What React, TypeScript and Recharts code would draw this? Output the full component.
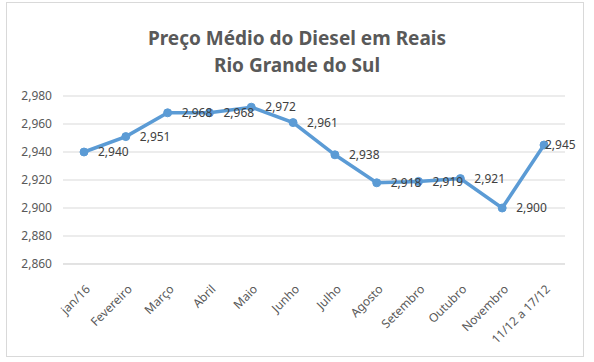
import React from 'react';
import { LineChart, Line, XAxis, YAxis, CartesianGrid, LabelList } from 'recharts';

const months = ['jan/16', 'Fevereiro', 'Março', 'Abril', 'Maio', 'Junho', 'Julho', 'Agosto', 'Setembro', 'Outubro', 'Novembro', '11/12 a 17/12'];
const prices = [2.94, 2.951, 2.968, 2.968, 2.972, 2.961, 2.938, 2.918, 2.919, 2.921, 2.9, 2.945];
const yTicks = [2.86, 2.88, 2.9, 2.92, 2.94, 2.96, 2.98];

const FONT = '"Noto Sans", "Open Sans", sans-serif';
const TEXT = '#595959';

const fmt = (v: number) => v.toFixed(3).replace('.', ',');

const data = months.map((m, i) => ({ month: m, price: prices[i] }));

const MonthTick = ({ x, y, payload }: any) => (
    <text
        x={x + 4}
        y={y + 15}
        transform={`rotate(-45, ${x + 4}, ${y + 15})`}
        textAnchor="end"
        fontSize={12}
        fill={TEXT}
        fontFamily={FONT}
        dy="0.35em"
    >
        {payload.value}
    </text>
);

// labels sit to the right of each point, kept inside the chart frame
const PointLabel = ({ x, y, value }: any) => (
    <text x={Math.min(x + 14, 545)} y={y} dy="0.35em" fontSize={12} fill="#404040" fontFamily={FONT}>
        {fmt(value)}
    </text>
);

export default function App() {
    return (
        <div style={{ position: 'absolute', left: 0, top: 0, width: 594, height: 362, background: '#fff' }}>
            {/* chart frame */}
            <div
                style={{
                    position: 'absolute',
                    left: 6,
                    top: 2,
                    width: 576,
                    height: 353,
                    border: '1px solid #d9d9d9',
                }}
            />
            <div
                style={{
                    position: 'absolute',
                    left: 0,
                    top: 25,
                    width: 594,
                    textAlign: 'center',
                    fontFamily: FONT,
                    fontWeight: 'bold',
                    fontSize: 19,
                    lineHeight: '27px',
                    color: TEXT,
                }}
            >
                <div>Preço Médio do Diesel em Reais</div>
                <div>Rio Grande do Sul</div>
            </div>
            <LineChart
                width={594}
                height={362}
                data={data}
                margin={{ top: 96, right: 29, bottom: 28, left: 0 }}
                style={{ position: 'absolute', left: 0, top: 0 }}
            >
                <CartesianGrid vertical={false} stroke="#d9d9d9" />
                <XAxis
                    dataKey="month"
                    height={70}
                    padding={{ left: 21, right: 21 }}
                    axisLine={{ stroke: '#d9d9d9' }}
                    tickLine={false}
                    tick={<MonthTick />}
                    interval={0}
                />
                <YAxis
                    width={63}
                    domain={[2.86, 2.98]}
                    ticks={yTicks}
                    tickFormatter={fmt}
                    axisLine={false}
                    tickLine={false}
                    tickMargin={5}
                    tick={{ fontSize: 12, fill: TEXT, fontFamily: FONT }}
                />
                <Line
                    type="linear"
                    dataKey="price"
                    stroke="#5b9bd5"
                    strokeWidth={3.5}
                    dot={{ r: 4, fill: '#5b9bd5', stroke: '#5b9bd5', strokeWidth: 1 }}
                    isAnimationActive={false}
                >
                    <LabelList dataKey="price" content={<PointLabel />} />
                </Line>
            </LineChart>
        </div>
    );
}
